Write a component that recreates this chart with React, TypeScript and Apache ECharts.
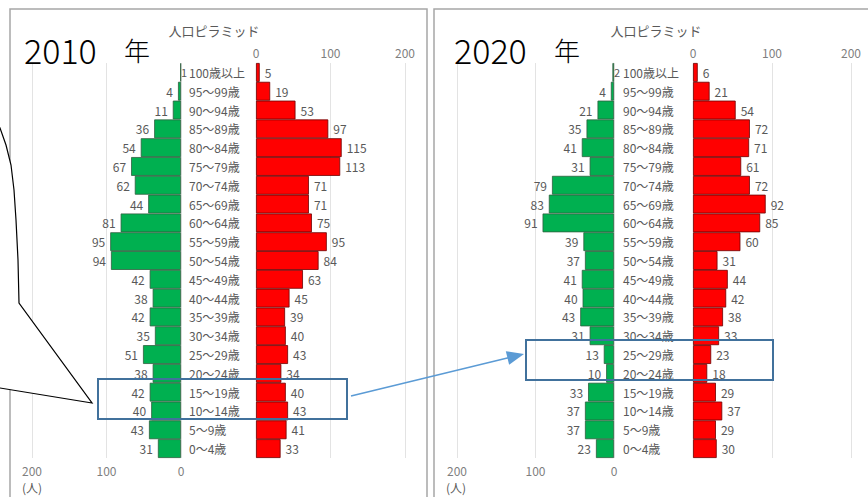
import React, { useEffect, useRef } from "react";
import * as echarts from "echarts";

const categories = [
  "100歳以上", "95～99歳", "90～94歳", "85～89歳", "80～84歳", "75～79歳", "70～74歳",
  "65～69歳", "60～64歳", "55～59歳", "50～54歳", "45～49歳", "40～44歳", "35～39歳",
  "30～34歳", "25～29歳", "20～24歳", "15～19歳", "10～14歳", "5～9歳", "0～4歳",
];
const male2010 = [1, 4, 11, 36, 54, 67, 62, 44, 81, 95, 94, 42, 38, 42, 35, 51, 38, 42, 40, 43, 31];
const female2010 = [5, 19, 53, 97, 115, 113, 71, 71, 75, 95, 84, 63, 45, 39, 40, 43, 34, 40, 43, 41, 33];
const male2020 = [2, 4, 21, 35, 41, 31, 79, 83, 91, 39, 37, 41, 40, 43, 31, 13, 10, 33, 37, 37, 23];
const female2020 = [6, 21, 54, 72, 71, 61, 72, 92, 85, 60, 31, 44, 42, 38, 33, 23, 18, 29, 37, 29, 30];
const axisMax = 200;
const axisStep = 100;
const chartTitle = "人口ピラミッド";
const years = ["2010", "2020"];
const unitLabel = "(人)";

const FONT = "Noto Sans CJK JP, Noto Sans, sans-serif";
const GREEN = "#00B050";
const RED = "#FF0000";
const LABEL = "#595959";

export default function App() {
  const ref = useRef<HTMLDivElement>(null);
  useEffect(() => {
    if (!ref.current) return;
    const chart = echarts.init(ref.current, null, { renderer: "svg" });

    const grids = [
      { left: 32, width: 149 },
      { left: 256, width: 149 },
      { left: 457, width: 157 },
      { left: 693, width: 158 },
    ].map((g) => ({ ...g, top: 63, height: 395 }));

    const xAxis = grids.map((_, i) => {
      const male = i % 2 === 0;
      return {
        type: "value",
        gridIndex: i,
        min: 0,
        max: axisMax,
        interval: axisStep,
        inverse: male,
        position: male ? "bottom" : "top",
        axisLine: { show: false },
        axisTick: { show: false },
        axisLabel: { color: "#7f7f7f", fontSize: 12, fontFamily: FONT, margin: male ? 6 : 5 },
        splitLine: { show: true, lineStyle: { color: "#e3e3e3", width: 1 } },
      };
    });

    const yAxis = grids.map((_, i) => {
      const male = i % 2 === 0;
      return {
        type: "category",
        gridIndex: i,
        data: categories,
        inverse: true,
        position: male ? "right" : "left",
        axisLine: { show: false },
        axisTick: { show: false },
        splitLine: { show: false },
        axisLabel: {
          show: male,
          color: LABEL,
          fontSize: 12,
          fontFamily: FONT,
          margin: i === 0 ? 8 : 9,
          align: "left",
        },
      };
    });

    const mkSeries = (data: number[], i: number) => {
      const male = i % 2 === 0;
      return {
        type: "bar",
        xAxisIndex: i,
        yAxisIndex: i,
        barCategoryGap: "0%",
        itemStyle: {
          color: male ? GREEN : RED,
          borderColor: male ? "#2f5f3f" : "#6b0000",
          borderWidth: 0.8,
        },
        label: {
          show: true,
          position: male ? "left" : "right",
          distance: 5,
          color: LABEL,
          fontSize: 12,
          fontFamily: FONT,
        },
        data: data.map((v, k) =>
          male && k === 0
            ? { value: v, label: { position: "right", distance: 0, fontSize: 11 } }
            : v
        ),
      };
    };

    const series = [male2010, female2010, male2020, female2020].map(mkSeries);

    const txt = (x: number, y: number, text: string, size: number, color: string, align = "left", weight: any = "normal") => ({
      type: "text",
      x,
      y,
      z: 100,
      style: {
        text,
        fontSize: size,
        fontFamily: FONT,
        fontWeight: weight,
        fill: color,
        align,
        verticalAlign: "middle",
      },
    });

    // arrow geometry
    const ax0 = 351, ay0 = 396, ax1 = 524, ay1 = 354;
    const dx = ax1 - ax0, dy = ay1 - ay0;
    const len = Math.sqrt(dx * dx + dy * dy);
    const ux = dx / len, uy = dy / len;
    const nx = -uy, ny = ux;
    const hl = 17, hw = 7;
    const bx = ax1 - ux * hl, by = ay1 - uy * hl;

    const graphic = [
      {
        type: "rect",
        z: 90,
        shape: { x: 10, y: 9, width: 417, height: 520 },
        style: { fill: "none", stroke: "#a6a6a6", lineWidth: 1.5 },
      },
      {
        type: "rect",
        z: 90,
        shape: { x: 434, y: 9, width: 460, height: 520 },
        style: { fill: "none", stroke: "#a6a6a6", lineWidth: 1.5 },
      },
      {
        type: "polygon",
        z: 95,
        shape: {
          points: [
            [-10, 110], [0, 128], [6, 145], [11, 165], [14, 190], [16, 220], [18, 260],
            [19, 303], [92, 403], [0, 388], [-10, 388],
          ],
        },
        style: { fill: "#ffffff", stroke: "#000000", lineWidth: 1.2 },
      },
      {
        type: "rect",
        z: 96,
        shape: { x: 98, y: 379, width: 249, height: 40 },
        style: { fill: "none", stroke: "#41719C", lineWidth: 2 },
      },
      {
        type: "rect",
        z: 96,
        shape: { x: 526, y: 340, width: 247, height: 40 },
        style: { fill: "none", stroke: "#41719C", lineWidth: 2 },
      },
      {
        type: "line",
        z: 96,
        shape: { x1: ax0, y1: ay0, x2: bx + ux * 2, y2: by + uy * 2 },
        style: { stroke: "#5B9BD5", lineWidth: 1.5 },
      },
      {
        type: "polygon",
        z: 96,
        shape: {
          points: [
            [ax1, ay1],
            [bx + nx * hw, by + ny * hw],
            [bx - nx * hw, by - ny * hw],
          ],
        },
        style: { fill: "#5B9BD5", stroke: "none" },
      },
      txt(214, 30, chartTitle, 13, LABEL, "center"),
      txt(656, 30, chartTitle, 13, LABEL, "center"),
      txt(24, 49, years[0], 34, "#000000", "left", 300),
      txt(124, 49, "年", 26, "#000000", "left", 300),
      txt(454, 49, years[1], 34, "#000000", "left", 300),
      txt(554, 49, "年", 26, "#000000", "left", 300),
      txt(22, 487, unitLabel, 12, LABEL),
      txt(446, 487, unitLabel, 12, LABEL),
    ];

    chart.setOption({
      animation: false,
      backgroundColor: "#ffffff",
      grid: grids,
      xAxis,
      yAxis,
      series,
      graphic,
    });
    return () => chart.dispose();
  }, []);

  return (
    <div
      ref={ref}
      style={{ position: "fixed", left: 0, top: 0, width: 868, height: 497 }}
    />
  );
}
